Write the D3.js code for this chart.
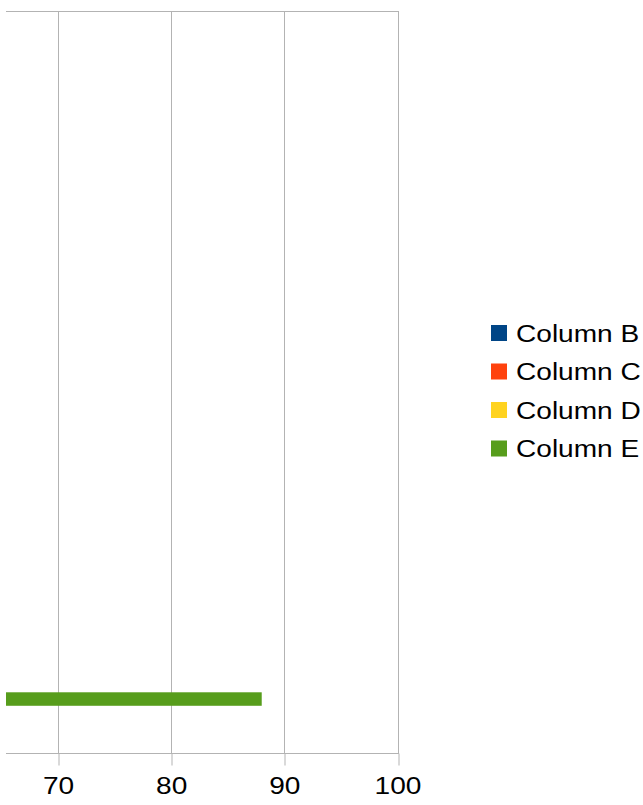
<!DOCTYPE html>
<html>
<head>
<meta charset="utf-8">
<script src="https://cdn.jsdelivr.net/npm/d3@7"></script>
<style>
  html, body { margin: 0; padding: 0; background: #fff; }
  svg { display: block; }
  text { font-family: "Liberation Sans", Arial, sans-serif; fill: #000; }
</style>
</head>
<body>
<svg id="chart" width="643" height="805"></svg>
<script>
// ---- data ----
const categories = ["1", "2", "3", "4", "5", "6", "7", "8", "9", "10", "11"];
const seriesNames = ["Column B", "Column C", "Column D", "Column E"];
// Only one value falls inside the visible axis range; others are not visible (null)
const columnB = [null, null, null, null, null, null, null, null, null, null, null];
const columnC = [null, null, null, null, null, null, null, null, null, null, null];
const columnD = [null, null, null, null, null, null, null, null, null, null, null];
const columnE = [88, null, null, null, null, null, null, null, null, null, null];
const seriesColors = ["#004586", "#ff420e", "#ffd320", "#579d1c"];
const xTicks = [70, 80, 90, 100];
const xDomain = [65.4, 100];

const seriesValues = [columnB, columnC, columnD, columnE];

// ---- layout ----
const plot = { left: 6, right: 397.5, top: 11, bottom: 753 };
const gridColor = "#b3b3b3";
const fontSize = 24;
const stretch = 1.17;

const svg = d3.select("#chart");

const x = d3.scaleLinear().domain(xDomain).range([plot.left, plot.right]);
const yCat = d3.scaleBand().domain(categories).range([plot.bottom, plot.top]).paddingInner(0).paddingOuter(0);
const ySub = d3.scaleBand().domain(seriesNames).range([yCat.bandwidth(), 0]).paddingInner(0).paddingOuter(0.5);

// grid lines
const g = svg.append("g");
g.selectAll("line.grid").data(xTicks).join("line")
  .attr("x1", d => Math.round(x(d)) + 0.5).attr("x2", d => Math.round(x(d)) + 0.5)
  .attr("y1", plot.top).attr("y2", plot.bottom)
  .attr("stroke", gridColor).attr("stroke-width", 1);

// top & bottom border
g.append("line").attr("x1", plot.left).attr("x2", Math.round(x(100)) + 1)
  .attr("y1", plot.top + 0.5).attr("y2", plot.top + 0.5)
  .attr("stroke", gridColor);

// bars
const clip = svg.append("clipPath").attr("id", "clip").append("rect")
  .attr("x", plot.left).attr("y", plot.top).attr("width", plot.right - plot.left).attr("height", plot.bottom - plot.top);
const barsG = svg.append("g").attr("clip-path", "url(#clip)");
seriesNames.forEach((s, si) => {
  const vals = seriesValues[si];
  const data = categories.map((c, i) => ({ c, v: vals[i] })).filter(d => d.v != null);
  barsG.selectAll(null).data(data).join("rect")
    .attr("x", x(xDomain[0]))
    .attr("y", d => yCat(d.c) + ySub(s))
    .attr("width", d => Math.max(0, x(d.v) - x(xDomain[0])))
    .attr("height", ySub.bandwidth())
    .attr("fill", seriesColors[si]);
});

// x axis
const axis = d3.axisBottom(x).tickValues(xTicks).tickSize(12).tickPadding(0).tickFormat(d3.format("d"));
const ax = svg.append("g").attr("transform", `translate(0,${plot.bottom + 0.5})`).call(axis);
ax.select(".domain").remove();
ax.append("line").attr("x1", plot.left).attr("x2", Math.round(x(100)) + 1).attr("y1", 0).attr("y2", 0).attr("stroke", gridColor);
ax.selectAll(".tick line").attr("stroke", gridColor)
  .attr("transform", d => `translate(${Math.round(x(d)) + 0.5 - x(d)},0)`);
ax.selectAll(".tick text")
  .attr("y", 0).attr("dy", null)
  .style("font-size", fontSize + "px")
  .style("font-family", '"Liberation Sans", Arial, sans-serif')
  .attr("fill", "#000")
  .attr("transform", `translate(0,${794 - plot.bottom - 0.5}) scale(${stretch},1)`);

// legend
const legend = svg.append("g");
const legendRows = [333, 371.5, 410, 448.5];
seriesNames.forEach((s, i) => {
  const cy = legendRows[i];
  legend.append("rect").attr("x", 491).attr("y", cy - 8).attr("width", 16).attr("height", 16).attr("fill", seriesColors[i]);
  legend.append("text").attr("transform", `translate(516,${cy + 8.5}) scale(${stretch},1)`)
    .style("font-size", fontSize + "px").text(s);
});
</script>
</body>
</html>
